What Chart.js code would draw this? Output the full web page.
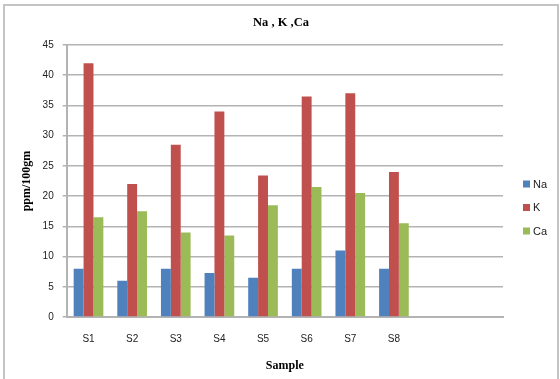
<!DOCTYPE html>
<html>
<head>
<meta charset="utf-8">
<script src="https://cdn.jsdelivr.net/npm/chart.js@4/dist/chart.umd.min.js"></script>
<style>
  html, body { margin: 0; padding: 0; background: #ffffff; }
  #wrap { width: 560px; height: 379px; position: relative; }
</style>
</head>
<body>
<div id="wrap"><canvas id="c" width="560" height="379"></canvas></div>
<script>
// Sample names (two trailing empty slots keep the category spacing)
const categories = ['S1', 'S2', 'S3', 'S4', 'S5', 'S6', 'S7', 'S8', '', ''];
// Concentrations in ppm/100gm
const naValues = [8, 6, 8, 7.3, 6.5, 8, 11, 8];
const kValues  = [42, 22, 28.5, 34, 23.4, 36.5, 37, 24];
const caValues = [16.5, 17.5, 14, 13.5, 18.5, 21.5, 20.5, 15.5];
const seriesNames = ['Na', 'K', 'Ca'];
const yTicks = [0, 5, 10, 15, 20, 25, 30, 35, 40, 45];

const colors = ['#4F81BD', '#C0504D', '#9BBB59'];
const gridColor = '#b3b3b3';
const serif = "'Liberation Serif', 'Times New Roman', serif";
const sans = "'Liberation Sans', Arial, sans-serif";

// Outer frame, title and the legend on the right
const decorations = {
  id: 'decorations',
  beforeDraw(chart) {
    const ctx = chart.ctx;
    ctx.save();
    ctx.strokeStyle = '#c4c4c4';
    ctx.lineWidth = 2;
    ctx.strokeRect(4, 5, 554, 390);
    ctx.restore();
  },
  afterDraw(chart) {
    const ctx = chart.ctx;
    ctx.save();
    ctx.fillStyle = '#000000';
    ctx.font = "bold 12.5px " + serif;
    ctx.textAlign = 'center';
    ctx.textBaseline = 'middle';
    ctx.fillText('Na , K ,Ca', 281, 23);

    ctx.font = "11px " + sans;
    ctx.textAlign = 'left';
    chart.data.datasets.forEach((ds, i) => {
      const y = 184 + i * 23.5;
      ctx.fillStyle = ds.backgroundColor;
      ctx.fillRect(523, y - 3.5, 7, 7);
      ctx.fillStyle = '#222222';
      ctx.fillText(ds.label, 533, y + 0.5);
    });
    ctx.restore();
  }
};

new Chart(document.getElementById('c'), {
  type: 'bar',
  data: {
    labels: categories,
    datasets: [
      { label: seriesNames[0], data: naValues, backgroundColor: colors[0] },
      { label: seriesNames[1], data: kValues,  backgroundColor: colors[1] },
      { label: seriesNames[2], data: caValues, backgroundColor: colors[2] }
    ]
  },
  options: {
    responsive: false,
    animation: false,
    devicePixelRatio: 1,
    layout: { padding: { left: 4, right: 57, top: 45, bottom: 0 } },
    datasets: { bar: { categoryPercentage: 0.68, barPercentage: 1.0 } },
    plugins: {
      legend: { display: false },
      title: { display: false },
      tooltip: { enabled: false }
    },
    scales: {
      x: {
        grid: { display: false, drawTicks: false },
        border: { display: true, color: gridColor, width: 2 },
        ticks: { color: '#222222', font: { family: sans, size: 10 }, padding: 16, maxRotation: 0, autoSkip: false },
        title: { display: true, text: 'Sample', color: '#000000', font: { family: serif, size: 12, weight: 'bold' }, padding: { top: 0, bottom: 6 } },
        afterFit(scale) { scale.height = 62; }
      },
      y: {
        min: 0,
        max: 45,
        afterBuildTicks(scale) { scale.ticks = yTicks.map(v => ({ value: v })); },
        grid: { color: gridColor, lineWidth: 1.5, tickLength: 4 },
        border: { display: true, color: gridColor, width: 2 },
        ticks: { color: '#222222', font: { family: sans, size: 10 }, padding: 9 },
        title: { display: true, text: 'ppm/100gm', color: '#000000', font: { family: serif, size: 12, weight: 'bold' }, padding: { top: 16, bottom: 0 } },
        afterFit(scale) { scale.width = 62.7; }
      }
    }
  },
  plugins: [decorations]
});
</script>
</body>
</html>
